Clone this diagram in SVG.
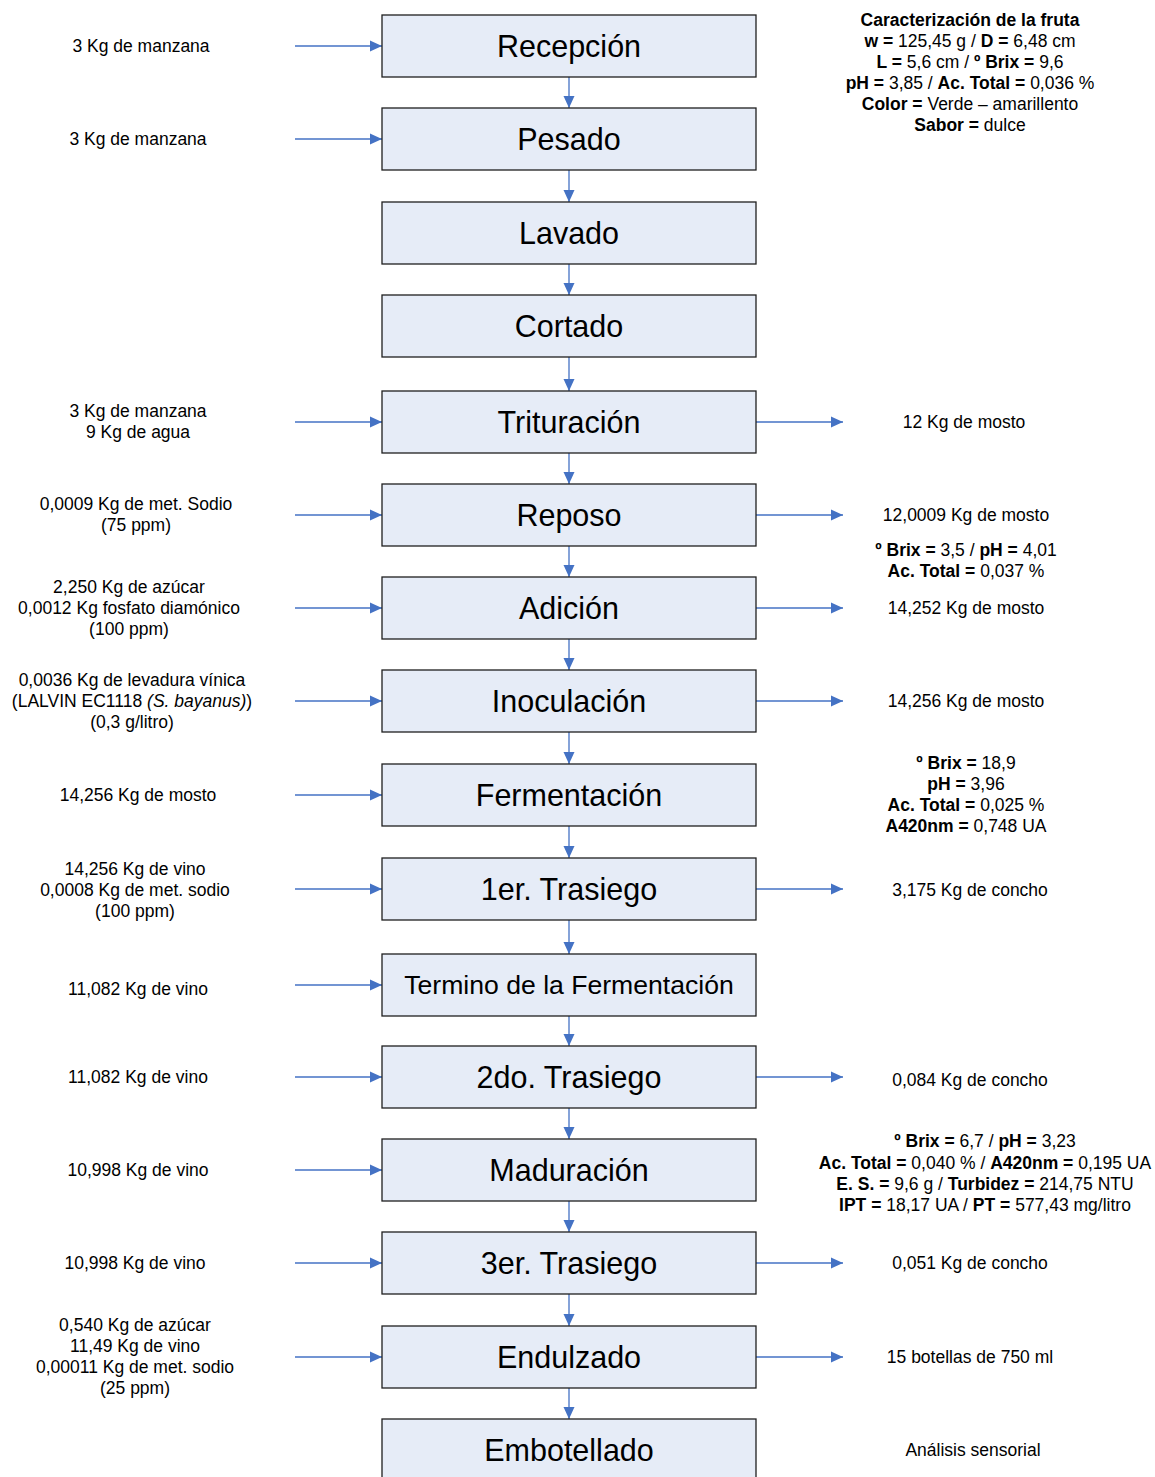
<svg xmlns="http://www.w3.org/2000/svg" width="1155" height="1477" viewBox="0 0 1155 1477">
  <defs>
    <marker id="arrow" viewBox="0 0 12 12" refX="12" refY="6" markerWidth="12" markerHeight="12" markerUnits="userSpaceOnUse" orient="auto">
      <path d="M0,0.5 L12,6 L0,11.5 z" fill="#4472C4"/>
    </marker>
    <style>
      .box { fill: #E6ECF7; stroke: #1f1f1f; stroke-width: 1.3; }
      .title { font-family: "Liberation Sans", Arial, sans-serif; font-size: 30.5px; fill: #000; text-anchor: middle; }
      .side { font-family: "Liberation Sans", Arial, sans-serif; font-size: 17.5px; fill: #000; text-anchor: middle; }
      .b { font-weight: bold; }
      .i { font-style: italic; }
      .conn line { stroke: #4472C4; stroke-width: 1.3; marker-end: url(#arrow); }
    </style>
  </defs>
  <rect width="1155" height="1477" fill="#fff"/>

  <!-- process connectors -->
  <g id="connectors" class="conn">
    <!-- vertical flow -->
    <line x1="569" y1="77" x2="569" y2="108"/>
    <line x1="569" y1="170" x2="569" y2="202"/>
    <line x1="569" y1="264" x2="569" y2="295"/>
    <line x1="569" y1="357" x2="569" y2="391"/>
    <line x1="569" y1="453" x2="569" y2="484"/>
    <line x1="569" y1="546" x2="569" y2="577"/>
    <line x1="569" y1="639" x2="569" y2="670"/>
    <line x1="569" y1="732" x2="569" y2="764"/>
    <line x1="569" y1="826" x2="569" y2="858"/>
    <line x1="569" y1="920" x2="569" y2="954"/>
    <line x1="569" y1="1016" x2="569" y2="1046"/>
    <line x1="569" y1="1108" x2="569" y2="1139"/>
    <line x1="569" y1="1201" x2="569" y2="1232"/>
    <line x1="569" y1="1294" x2="569" y2="1326"/>
    <line x1="569" y1="1388" x2="569" y2="1419"/>
    <!-- inputs -->
    <line x1="295" y1="46" x2="382" y2="46"/>
    <line x1="295" y1="139" x2="382" y2="139"/>
    <line x1="295" y1="422" x2="382" y2="422"/>
    <line x1="295" y1="515" x2="382" y2="515"/>
    <line x1="295" y1="608" x2="382" y2="608"/>
    <line x1="295" y1="701" x2="382" y2="701"/>
    <line x1="295" y1="795" x2="382" y2="795"/>
    <line x1="295" y1="889" x2="382" y2="889"/>
    <line x1="295" y1="985" x2="382" y2="985"/>
    <line x1="295" y1="1077" x2="382" y2="1077"/>
    <line x1="295" y1="1170" x2="382" y2="1170"/>
    <line x1="295" y1="1263" x2="382" y2="1263"/>
    <line x1="295" y1="1357" x2="382" y2="1357"/>
    <!-- outputs -->
    <line x1="756" y1="422" x2="843" y2="422"/>
    <line x1="756" y1="515" x2="843" y2="515"/>
    <line x1="756" y1="608" x2="843" y2="608"/>
    <line x1="756" y1="701" x2="843" y2="701"/>
    <line x1="756" y1="889" x2="843" y2="889"/>
    <line x1="756" y1="1077" x2="843" y2="1077"/>
    <line x1="756" y1="1263" x2="843" y2="1263"/>
    <line x1="756" y1="1357" x2="843" y2="1357"/>
  </g>

  <!-- process steps -->
  <g id="recepcion"><rect class="box" x="382" y="15" width="374" height="62"/><text class="title" x="569" y="57">Recepción</text></g>
  <g id="pesado"><rect class="box" x="382" y="108" width="374" height="62"/><text class="title" x="569" y="150">Pesado</text></g>
  <g id="lavado"><rect class="box" x="382" y="202" width="374" height="62"/><text class="title" x="569" y="244">Lavado</text></g>
  <g id="cortado"><rect class="box" x="382" y="295" width="374" height="62"/><text class="title" x="569" y="337">Cortado</text></g>
  <g id="trituracion"><rect class="box" x="382" y="391" width="374" height="62"/><text class="title" x="569" y="433">Trituración</text></g>
  <g id="reposo"><rect class="box" x="382" y="484" width="374" height="62"/><text class="title" x="569" y="526">Reposo</text></g>
  <g id="adicion"><rect class="box" x="382" y="577" width="374" height="62"/><text class="title" x="569" y="619">Adición</text></g>
  <g id="inoculacion"><rect class="box" x="382" y="670" width="374" height="62"/><text class="title" x="569" y="712">Inoculación</text></g>
  <g id="fermentacion"><rect class="box" x="382" y="764" width="374" height="62"/><text class="title" x="569" y="806">Fermentación</text></g>
  <g id="trasiego1"><rect class="box" x="382" y="858" width="374" height="62"/><text class="title" x="569" y="900">1er. Trasiego</text></g>
  <g id="termino"><rect class="box" x="382" y="954" width="374" height="62"/><text class="title" x="569" y="994" style="font-size:26.6px">Termino de la Fermentación</text></g>
  <g id="trasiego2"><rect class="box" x="382" y="1046" width="374" height="62"/><text class="title" x="569" y="1088">2do. Trasiego</text></g>
  <g id="maduracion"><rect class="box" x="382" y="1139" width="374" height="62"/><text class="title" x="569" y="1181">Maduración</text></g>
  <g id="trasiego3"><rect class="box" x="382" y="1232" width="374" height="62"/><text class="title" x="569" y="1274">3er. Trasiego</text></g>
  <g id="endulzado"><rect class="box" x="382" y="1326" width="374" height="62"/><text class="title" x="569" y="1368">Endulzado</text></g>
  <g id="embotellado"><rect class="box" x="382" y="1419" width="374" height="62"/><text class="title" x="569" y="1461">Embotellado</text></g>

  <!-- inputs (left) -->
  <g id="inputs" class="side">
    <text class="side" x="141" y="52">3 Kg de manzana</text>
    <text class="side" x="138" y="145">3 Kg de manzana</text>
    <text class="side" x="138" y="417">3 Kg de manzana</text>
    <text class="side" x="138" y="438">9 Kg de agua</text>
    <text class="side" x="136" y="510">0,0009 Kg de met. Sodio</text>
    <text class="side" x="136" y="531">(75 ppm)</text>
    <text class="side" x="129" y="593">2,250 Kg de azúcar</text>
    <text class="side" x="129" y="614">0,0012 Kg fosfato diamónico</text>
    <text class="side" x="129" y="635">(100 ppm)</text>
    <text class="side" x="132" y="686">0,0036 Kg de levadura vínica</text>
    <text class="side" x="132" y="707">(LALVIN EC1118 <tspan class="i">(S. bayanus)</tspan>)</text>
    <text class="side" x="132" y="728">(0,3 g/litro)</text>
    <text class="side" x="138" y="801">14,256 Kg de mosto</text>
    <text class="side" x="135" y="875">14,256 Kg de vino</text>
    <text class="side" x="135" y="896">0,0008 Kg de met. sodio</text>
    <text class="side" x="135" y="917">(100 ppm)</text>
    <text class="side" x="138" y="995">11,082 Kg de vino</text>
    <text class="side" x="138" y="1083">11,082 Kg de vino</text>
    <text class="side" x="138" y="1176">10,998 Kg de vino</text>
    <text class="side" x="135" y="1269">10,998 Kg de vino</text>
    <text class="side" x="135" y="1331">0,540 Kg de azúcar</text>
    <text class="side" x="135" y="1352">11,49 Kg de vino</text>
    <text class="side" x="135" y="1373">0,00011 Kg de met. sodio</text>
    <text class="side" x="135" y="1394">(25 ppm)</text>
  </g>

  <!-- outputs and measurements (right) -->
  <g id="outputs" class="side">
    <text class="side" x="970" y="26"><tspan class="b">Caracterización de la fruta</tspan></text>
    <text class="side" x="970" y="47"><tspan class="b">w =</tspan> 125,45 g / <tspan class="b">D =</tspan> 6,48 cm</text>
    <text class="side" x="970" y="68"><tspan class="b">L =</tspan> 5,6 cm / <tspan class="b">º Brix =</tspan> 9,6</text>
    <text class="side" x="970" y="89"><tspan class="b">pH =</tspan> 3,85 / <tspan class="b">Ac. Total =</tspan> 0,036 %</text>
    <text class="side" x="970" y="110"><tspan class="b">Color =</tspan> Verde – amarillento</text>
    <text class="side" x="970" y="131"><tspan class="b">Sabor =</tspan> dulce</text>

    <text class="side" x="964" y="428">12 Kg de mosto</text>
    <text class="side" x="966" y="521">12,0009 Kg de mosto</text>
    <text class="side" x="966" y="556"><tspan class="b">º Brix =</tspan> 3,5 / <tspan class="b">pH =</tspan> 4,01</text>
    <text class="side" x="966" y="577"><tspan class="b">Ac. Total =</tspan> 0,037 %</text>
    <text class="side" x="966" y="614">14,252 Kg de mosto</text>
    <text class="side" x="966" y="707">14,256 Kg de mosto</text>
    <text class="side" x="966" y="769"><tspan class="b">º Brix =</tspan> 18,9</text>
    <text class="side" x="966" y="790"><tspan class="b">pH =</tspan> 3,96</text>
    <text class="side" x="966" y="811"><tspan class="b">Ac. Total =</tspan> 0,025 %</text>
    <text class="side" x="966" y="832"><tspan class="b">A420nm =</tspan> 0,748 UA</text>
    <text class="side" x="970" y="896">3,175 Kg de concho</text>
    <text class="side" x="970" y="1086">0,084 Kg de concho</text>
    <text class="side" x="985" y="1147"><tspan class="b">º Brix =</tspan> 6,7 / <tspan class="b">pH =</tspan> 3,23</text>
    <text class="side" x="985" y="1169"><tspan class="b">Ac. Total =</tspan> 0,040 % / <tspan class="b">A420nm =</tspan> 0,195 UA</text>
    <text class="side" x="985" y="1190"><tspan class="b">E. S. =</tspan> 9,6 g / <tspan class="b">Turbidez =</tspan> 214,75 NTU</text>
    <text class="side" x="985" y="1211"><tspan class="b">IPT =</tspan> 18,17 UA / <tspan class="b">PT =</tspan> 577,43 mg/litro</text>
    <text class="side" x="970" y="1269">0,051 Kg de concho</text>
    <text class="side" x="970" y="1363">15 botellas de 750 ml</text>
    <text class="side" x="973" y="1456">Análisis sensorial</text>
  </g>
</svg>
